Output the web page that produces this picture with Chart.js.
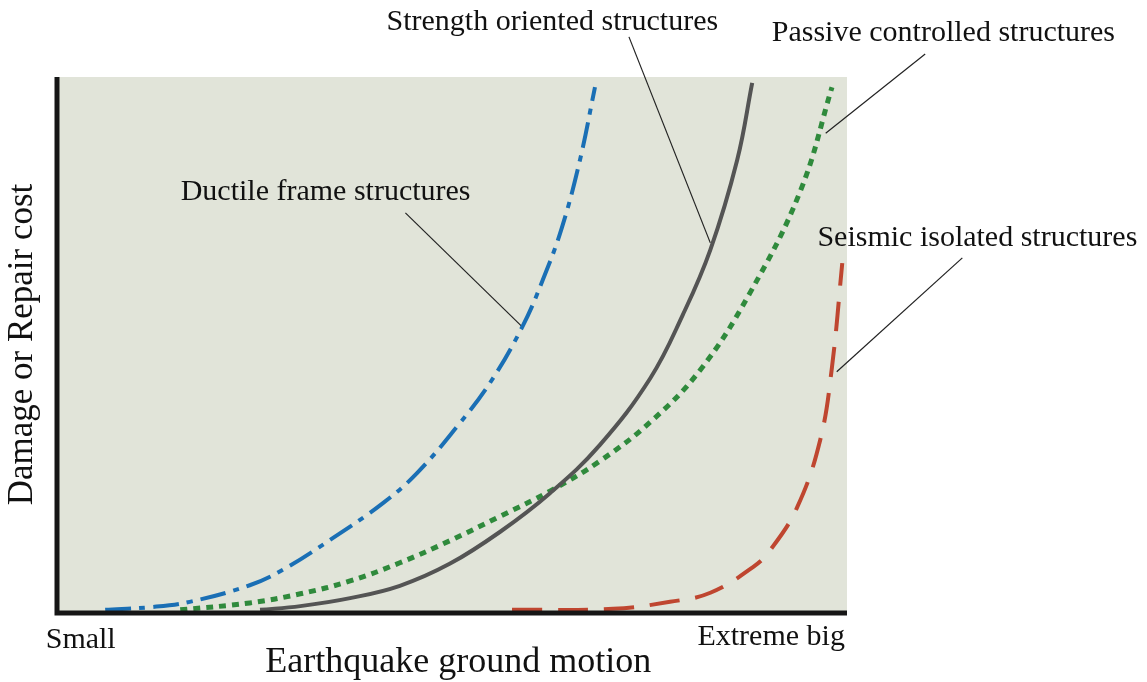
<!DOCTYPE html>
<html>
<head>
<meta charset="utf-8">
<script src="https://cdn.jsdelivr.net/npm/chart.js"></script>
<style>
  html, body { margin: 0; padding: 0; background: #fff; }
  #wrap { width: 1147px; height: 682px; position: relative; }
</style>
</head>
<body>
<div id="wrap"><canvas id="riskChart"></canvas></div>
<script>
// ground motion (0 = small, 100 = extreme) vs damage / repair cost (0..100)
const ductileX  = [6.1, 11.8, 16.8, 24.4, 28.6, 34.9, 41.3, 45.6, 50.6, 54.8, 58.9, 61.5, 63.9, 66.2, 68.1];
const ductileY  = [0.4, 0.9, 1.9, 5.0, 7.9, 13.8, 20.4, 26.0, 34.6, 42.8, 53.3, 62.1, 71.8, 84.5, 98.1];
const strengthX = [25.7, 30.8, 37.1, 43.4, 49.7, 56.1, 62.4, 68.7, 75.1, 79.2, 82.7, 86.1, 88.0];
const strengthY = [0.4, 1.1, 2.6, 4.9, 9.0, 15.0, 22.2, 31.2, 43.7, 55.5, 67.7, 84.5, 98.9];
const passiveX  = [15.6, 24.4, 30.8, 37.1, 43.4, 49.7, 56.1, 62.4, 68.7, 75.1, 81.4, 87.7, 94.1, 98.1];
const passiveY  = [0.4, 1.7, 3.4, 5.8, 9.2, 13.3, 17.9, 22.6, 28.2, 35.5, 45.2, 59.6, 78.7, 98.1];
const isolatedX = [57.6, 70.4, 77.6, 82.7, 88.1, 90.3, 93.7, 96.6, 98.1, 99.4];
const isolatedY = [0.4, 0.6, 1.9, 3.6, 8.4, 11.6, 19.6, 32.1, 45.8, 65.2];

const seriesNames = ['Ductile frame structures', 'Strength oriented structures',
                     'Passive controlled structures', 'Seismic isolated structures'];
const xTickLabels = ['Small', 'Extreme big'];
const xTitle = 'Earthquake ground motion';
const yTitle = 'Damage or Repair cost';

// leader lines: [curve end, label end]
const leaderDuctile  = [[58.9, 53.3], [44.1, 74.6]];
const leaderStrength = [[82.7, 69.0], [72.4, 107.5]];
const leaderPassive  = [[97.3, 89.5], [109.9, 104.3]];
const leaderIsolated = [[98.7, 44.9], [114.6, 66.2]];

const pts = (xs, ys) => xs.map((x, i) => ({ x: x, y: ys[i] }));
const seg = (l) => l.map(p => ({ x: p[0], y: p[1] }));

const curve = (label, data, color, dash, width) => ({
  label: label, data: data, borderColor: color, borderDash: dash,
  borderWidth: width, pointRadius: 0, fill: false,
  tension: 0.4, borderCapStyle: 'butt', clip: false
});
const leader = (data) => ({
  data: data, borderColor: '#222', borderWidth: 1.2, pointRadius: 0,
  fill: false, tension: 0, clip: false
});

const frame = {
  id: 'frame',
  beforeDatasetsDraw(chart) {
    const { ctx, chartArea: a } = chart;
    ctx.save();
    ctx.fillStyle = '#e1e4d9';
    ctx.fillRect(a.left, a.top, a.right - a.left, a.bottom - a.top);
    ctx.restore();
  },
  afterDatasetsDraw(chart) {
    const { ctx, chartArea: a, scales: { x, y } } = chart;
    ctx.save();
    ctx.strokeStyle = '#161616';
    ctx.lineWidth = 5;
    ctx.beginPath();
    ctx.moveTo(a.left, a.top);
    ctx.lineTo(a.left, a.bottom + 1);
    ctx.lineTo(a.right, a.bottom + 1);
    ctx.stroke();

    ctx.fillStyle = '#111';
    ctx.textAlign = 'center';
    ctx.textBaseline = 'middle';
    ctx.font = '30px "Liberation Serif", serif';
    ctx.fillText(seriesNames[0], x.getPixelForValue(34), y.getPixelForValue(78.5));
    ctx.fillText(seriesNames[1], x.getPixelForValue(62.7), y.getPixelForValue(110.3));
    ctx.fillText(seriesNames[2], x.getPixelForValue(112.2), y.getPixelForValue(108.2));
    ctx.fillText(seriesNames[3], x.getPixelForValue(116.5), y.getPixelForValue(69.9));

    ctx.fillText(xTickLabels[0], x.getPixelForValue(3.0), a.bottom + 28);
    ctx.fillText(xTickLabels[1], x.getPixelForValue(90.4), a.bottom + 25);

    ctx.font = '36px "Liberation Serif", serif';
    ctx.fillText(xTitle, x.getPixelForValue(50.8), a.bottom + 51);
    ctx.font = '35px "Liberation Serif", serif';
    ctx.translate(23, (a.top + a.bottom) / 2);
    ctx.rotate(-Math.PI / 2);
    ctx.fillText(yTitle, 0, 0);
    ctx.restore();
  }
};

new Chart(document.getElementById('riskChart'), {
  type: 'line',
  data: {
    datasets: [
      curve(seriesNames[0], pts(ductileX, ductileY), '#1a6fb5', [26, 8, 6, 8], 4),
      curve(seriesNames[1], pts(strengthX, strengthY), '#545454', [], 4),
      curve(seriesNames[2], pts(passiveX, passiveY), '#2f8a3c', [7, 6], 5),
      curve(seriesNames[3], pts(isolatedX, isolatedY), '#bf4630', [30, 16], 4),
      leader(seg(leaderDuctile)),
      leader(seg(leaderStrength)),
      leader(seg(leaderPassive)),
      leader(seg(leaderIsolated))
    ]
  },
  options: {
    responsive: true,
    maintainAspectRatio: false,
    animation: false,
    layout: { padding: { left: 57, right: 300, top: 77, bottom: 70 } },
    scales: {
      x: { type: 'linear', min: 0, max: 100, display: false },
      y: { type: 'linear', min: 0, max: 100, display: false }
    },
    plugins: { legend: { display: false }, tooltip: { enabled: false } }
  },
  plugins: [frame]
});
</script>
</body>
</html>
